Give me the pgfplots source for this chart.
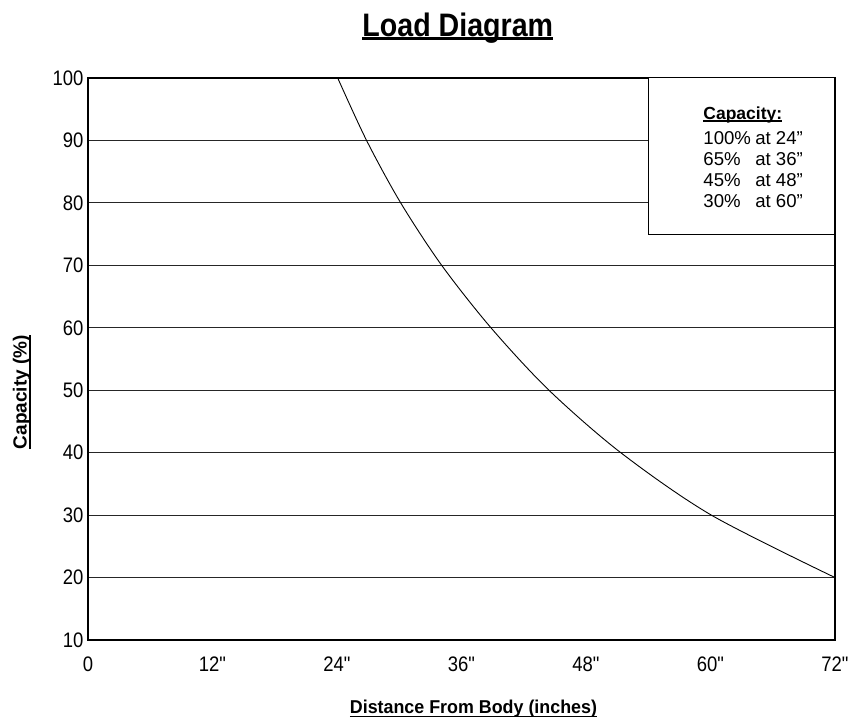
\documentclass[border=0pt]{standalone}
\usepackage{fontspec}
\setmainfont{Liberation Sans}
\newfontfamily\narrowfont[FakeStretch=0.88]{Liberation Sans}
\newfontfamily\semifont[FakeStretch=0.96]{Liberation Sans}
\usepackage{pgfplots}
\pgfplotsset{compat=1.18}
\newsavebox\ulbox
\newcommand{\ulin}[3]{\sbox\ulbox{#1}\leavevmode\rlap{\rule[-#2]{\wd\ulbox}{#3}}\usebox\ulbox}
\begin{document}
\begin{tikzpicture}
\begin{axis}[
  at={(0,0)}, anchor=south west,
  scale only axis, width=747pt, height=562pt,
  xmin=0, xmax=72, ymin=10, ymax=100,
  enlargelimits=false,
  xtick={0,12,24,36,48,60,72},
  xticklabels={0,12",24",36",48",60",72"},
  ytick={10,20,30,40,50,60,70,80,90,100},
  major tick length=0pt,
  ymajorgrids, grid style={black!85, line width=0.9pt},
  axis line style={black, line width=1.1pt},
  /pgf/number format/assume math mode=true,
  tick label style={font=\narrowfont\fontsize{21}{22}\selectfont},
  xticklabel style={anchor=base, yshift=-32pt},
  yticklabel style={xshift=-1pt},
  clip mode=individual,
]
\addplot[black, line width=0.9pt, smooth] coordinates {
 (24.07,100) (26.85,90) (30.14,80) (34.09,70)
 (38.84,60) (44.43,50) (51.35,40) (60.08,30) (72,20)
};
\draw[fill=white, line width=1pt] (axis cs:54,75) rectangle (axis cs:72,100);
\node[anchor=base west, font=\fontsize{17.5}{20}\selectfont\bfseries, inner sep=0pt] at (axis cs:59.3,93.4) {\ulin{Capacity:}{2.4pt}{1.3pt}};
\node[anchor=base west, font=\fontsize{18.6}{20}\selectfont, inner sep=0pt] at (axis cs:59.3,89.4) {100\%};
\node[anchor=base west, font=\fontsize{18.6}{20}\selectfont, inner sep=0pt] at (axis cs:64.3,89.4) {at 24”};
\node[anchor=base west, font=\fontsize{18.6}{20}\selectfont, inner sep=0pt] at (axis cs:59.3,86.05) {65\%};
\node[anchor=base west, font=\fontsize{18.6}{20}\selectfont, inner sep=0pt] at (axis cs:64.3,86.05) {at 36”};
\node[anchor=base west, font=\fontsize{18.6}{20}\selectfont, inner sep=0pt] at (axis cs:59.3,82.7) {45\%};
\node[anchor=base west, font=\fontsize{18.6}{20}\selectfont, inner sep=0pt] at (axis cs:64.3,82.7) {at 48”};
\node[anchor=base west, font=\fontsize{18.6}{20}\selectfont, inner sep=0pt] at (axis cs:59.3,79.3) {30\%};
\node[anchor=base west, font=\fontsize{18.6}{20}\selectfont, inner sep=0pt] at (axis cs:64.3,79.3) {at 60”};
\node[anchor=base, font=\narrowfont\fontsize{32.5}{34}\selectfont\bfseries, inner sep=0pt] at (axis description cs:0.495,1.0735) {\ulin{Load Diagram}{3pt}{2.3pt}};
\node[anchor=base, font=\semifont\fontsize{18.6}{20}\selectfont\bfseries, inner sep=0pt] at (axis description cs:0.516,-0.1304) {\ulin{Distance From Body (inches)}{4pt}{1.3pt}};
\node[anchor=base, rotate=90, font=\fontsize{19}{20}\selectfont\bfseries, inner sep=0pt] at (axis description cs:-0.0821,0.441) {\ulin{Capacity (\%)}{4pt}{1.3pt}};
\end{axis}
\pgfresetboundingbox
\path (-88pt,-79pt) rectangle (764pt,640pt);
\end{tikzpicture}
\end{document}
